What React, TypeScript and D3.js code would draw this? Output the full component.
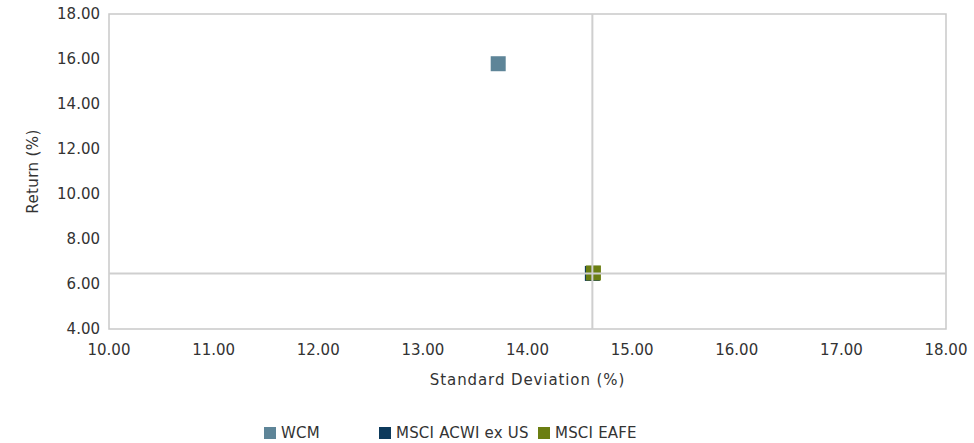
import React from "react";
import * as d3 from "d3";

const seriesNames = ["WCM", "MSCI ACWI ex US", "MSCI EAFE"];
const seriesColors = ["#5e8598", "#0d3a5c", "#6b7e12"];
const stdDev = [13.72, 14.62, 14.63];
const returns = [15.79, 6.47, 6.49];
const xTicks = [10, 11, 12, 13, 14, 15, 16, 17, 18];
const yTicks = [4, 6, 8, 10, 12, 14, 16, 18];
const crossX = 14.62;
const crossY = 6.47;

const W = 974;
const H = 443;
const m = { left: 109, top: 14, right: 946, bottom: 329 };
const FONT = "'DejaVu Sans', sans-serif";

export default function App() {
  const x = d3.scaleLinear().domain([10, 18]).range([m.left, m.right]);
  const y = d3.scaleLinear().domain([4, 18]).range([m.bottom, m.top]);
  const fmt = d3.format(".2f");
  const ms = 15;
  const legendX = [264, 379, 538];
  return (
    <svg width={W} height={H} style={{ position: "absolute", left: 0, top: 0, background: "#fff" }}>
      <rect x={m.left} y={m.top} width={m.right - m.left} height={m.bottom - m.top} fill="none" stroke="#c9c9c9" strokeWidth={1.5} />
      {seriesNames.map((n, i) => (
        <rect key={n} x={x(stdDev[i]) - ms / 2} y={y(returns[i]) - ms / 2} width={ms} height={ms} fill={seriesColors[i]} />
      ))}
      <line x1={x(crossX)} x2={x(crossX)} y1={m.top} y2={m.bottom} stroke="#cfcfcf" strokeWidth={2} />
      <line x1={m.left} x2={m.right} y1={y(crossY)} y2={y(crossY)} stroke="#cfcfcf" strokeWidth={2} />
      {yTicks.map((t) => (
        <text key={t} x={m.left - 9} y={y(t) + 5} textAnchor="end" fontFamily={FONT} fontSize={15} fill="#333">
          {fmt(t)}
        </text>
      ))}
      {xTicks.map((t) => (
        <text key={t} x={x(t)} y={m.bottom + 26} textAnchor="middle" fontFamily={FONT} fontSize={15} fill="#333">
          {fmt(t)}
        </text>
      ))}
      <text x={(m.left + m.right) / 2} y={385} textAnchor="middle" fontFamily={FONT} fontSize={15} letterSpacing={0.9} fill="#333">
        Standard Deviation (%)
      </text>
      <text transform={`translate(38,${(m.top + m.bottom) / 2}) rotate(-90)`} textAnchor="middle" fontFamily={FONT} fontSize={15} letterSpacing={0.4} fill="#333">
        Return (%)
      </text>
      {seriesNames.map((n, i) => (
        <g key={n}>
          <rect x={legendX[i]} y={427} width={12} height={12} fill={seriesColors[i]} />
          <text x={legendX[i] + 17} y={438} fontFamily={FONT} fontSize={15} letterSpacing={0.2} fill="#333">
            {n}
          </text>
        </g>
      ))}
    </svg>
  );
}
